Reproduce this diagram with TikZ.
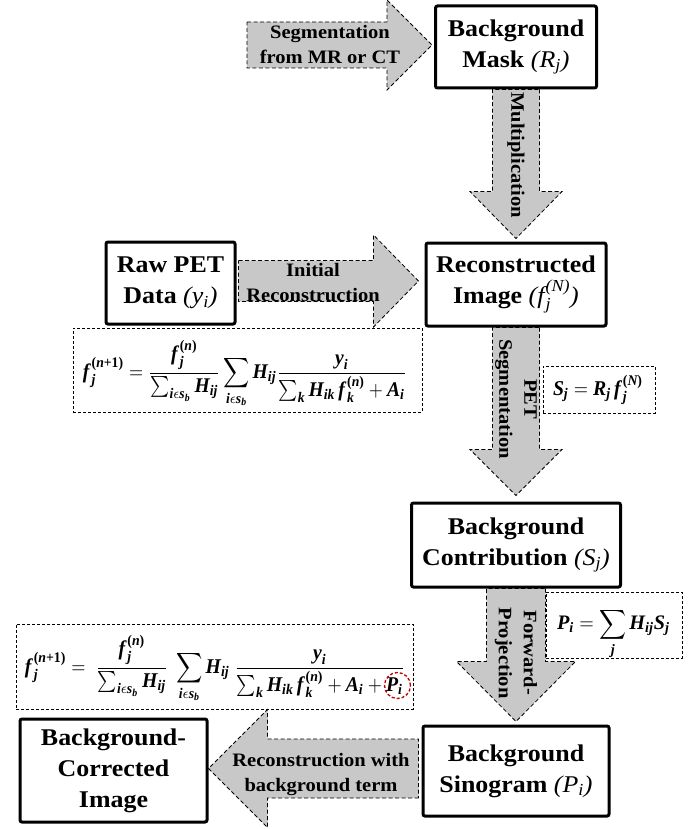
\documentclass[tikz,border=0pt]{standalone}
\usepackage{amsmath}
\usepackage{graphicx}
\usepackage{fontspec}
\setmainfont{Liberation Serif}[FakeStretch=1.08]
\usetikzlibrary{calc}
\definecolor{arrowgray}{RGB}{200,200,200}
\definecolor{circred}{RGB}{192,0,0}
\pgfdeclarelayer{bg}
\pgfsetlayers{bg,main}
% medium italic for variable names inside bold box titles
\newcommand\vi[1]{{\mdseries\itshape #1}}
% bold italic variables and bold upright symbols inside the equations
\newcommand\bv[1]{\text{\bfseries\itshape #1}}
\newcommand\bu[1]{\text{\bfseries #1}}
\newcommand\bff{\bv{f\kern1.2pt}}
\newcommand\iter[1]{^{\bu{(}\bv{#1}\bu{)}}}
\newcommand\sumb{\sum_{\bv{i}\epsilon\bv{s}_{\bv{b}}}}
% block arrow from #2 (start of shaft) to #3 (tip):
% #4 half shaft width, #5 half head width, #6 head length
\newcommand\blockarrow[6][]{%
  \coordinate (ha) at ($(#3)!#6!(#2)$);
  \draw[blockarrow,#1] ($(#2)!#4!90:(#3)$) -- ($(ha)!#4!90:(#3)$)
    -- ($(ha)!#5!90:(#3)$) -- (#3) -- ($(ha)!#5!-90:(#3)$)
    -- ($(ha)!#4!-90:(#3)$) -- ($(#2)!#4!-90:(#3)$) -- cycle;}
\tikzset{
  box/.style={draw, line width=3pt, rounded corners=2pt, fill=white,
    align=center, inner sep=0pt, font=\fontsize{24}{31}\selectfont\bfseries},
  lbl/.style={align=center, inner sep=0pt, font=\fontsize{19}{25}\selectfont\bfseries},
  blockarrow/.style={draw, fill=arrowgray, line width=0.8pt, dash pattern=on 4pt off 2.5pt},
  fbox/.style={draw, line width=0.8pt, dash pattern=on 3pt off 2pt, inner sep=0pt},
  eq/.style={inner sep=0pt},
  redring/.style={draw=circred, circle, line width=1.3pt, dash pattern=on 3pt off 2pt, inner sep=0pt}
}
\begin{document}
\begin{tikzpicture}[x=1pt,y=-1pt]
\useasboundingbox (0,0) rectangle (699,829);

% process boxes
\node[box, minimum width=161pt, minimum height=82pt] (mask) at (516,47)
  {Background\\Mask \vi{(R}$_{\text{\vi{j}}}$\vi{)}};
\node[box, minimum width=180pt, minimum height=83pt] (recon) at (516,284.5)
  {Reconstructed\\Image \vi{(f\kern1pt}$_{\text{\vi{j}}}^{\text{\vi{(N)}}}$\vi{)}};
\node[box, minimum width=129pt, minimum height=82pt] (raw) at (170.5,283)
  {Raw PET\\Data \vi{(y}$_{\text{\vi{i}}}$\vi{)}};
\node[box, minimum width=209pt, minimum height=84pt] (contrib) at (516,545)
  {Background\\Contribution \vi{(S}$_{\text{\vi{j}}}$\vi{)}};
\node[box, minimum width=186pt, minimum height=90pt] (sino) at (516,771)
  {Background\\Sinogram \vi{(P}$_{\text{\vi{i}}}$\vi{)}};
\node[box, minimum width=187pt, minimum height=103pt] (corr) at (113.5,770.5)
  {Background-\\Corrected\\Image};

% block arrows between the boxes
\coordinate (s1) at (247,45);
\coordinate (t1) at ($(s1 -| mask.west)+(-2,0)$);
\coordinate (t2) at ($(mask.south |- recon.north)+(0,-3)$);
\coordinate (s3) at ($(raw.east)+(2,-2)$);
\coordinate (t3) at ($(s3 -| recon.west)+(-6,0)$);
\coordinate (t4) at ($(recon.south |- contrib.north)+(0,-6)$);
\coordinate (t5) at ($(contrib.south |- sino.north)+(0,-3)$);
\coordinate (s6) at ($(sino.west)+(-3,-2.5)$);
\coordinate (t6) at (s6 -| corr.east);
\begin{pgfonlayer}{bg}
  \blockarrow{s1}{t1}{23pt}{45pt}{45pt}
  \blockarrow{mask.south}{t2}{23.5pt}{46pt}{47pt}
  \blockarrow{s3}{t3}{20.5pt}{46pt}{45pt}
  \blockarrow{recon.south}{t4}{23.5pt}{46pt}{46pt}
  \blockarrow{contrib.south}{t5}{29.5pt}{59.5pt}{60pt}
  \blockarrow{s6}{t6}{29.5pt}{59pt}{59pt}
\end{pgfonlayer}

% arrow labels
\node[lbl] (l1) at (330,45) {Segmentation\\from MR or CT};
\node[lbl, rotate=-90] (l2) at (516,155) {Multiplication};
\node[lbl] (l3) at (313,283) {Initial\\Reconstruction};
\node[lbl, rotate=-90] (l4) at (516,399) {PET\\Segmentation};
\node[lbl, rotate=-90] (l5) at (516,653) {Forward-\\Projection};
\node[lbl] (l6) at (321,774) {Reconstruction with\\background term};

% equation frames
\node[fbox, minimum width=349pt, minimum height=84pt] (fr1) at (247.5,370) {};
\node[fbox, minimum width=112pt, minimum height=47pt] (fr2) at (599,389.5) {};
\node[fbox, minimum width=136pt, minimum height=66pt] (fr3) at (614,625) {};
\node[fbox, minimum width=397pt, minimum height=85pt] (fr4) at (214.5,666.5) {};

% equations
\node[eq] (e1) at (245,374) {\scalebox{1}[1.15]{\resizebox{324pt}{!}{$\displaystyle
  \bff_{\bv{j}}^{\bu{(}\bv{n}\bu{+1)}} = \frac{\bff_{\bv{j}}\iter{n}}{\sumb \bv{H}_{\bv{ij}}}
  \sumb \bv{H}_{\bv{ij}}
  \frac{\bv{y}_{\bv{i}}}{\sum_{\bv{k}} \bv{H}_{\bv{ik}}\,\bff_{\bv{k}}\iter{n} + \bv{A}_{\bv{i}}}$}}};
\node[eq] (e2) at (598,390) {\scalebox{1}[1.15]{\resizebox{90pt}{!}{$
  \bv{S}_{\bv{j}} = \bv{R}_{\bv{j}}\,\bff_{\bv{j}}\iter{N}$}}};
\node[eq] (e3) at (613.5,634) {\scalebox{1}[1.1]{\resizebox{113pt}{!}{$\displaystyle
  \bv{P}_{\bv{i}} = \sum_{\bv{j}} \bv{H}_{\bv{ij}}\bv{S}_{\bv{j}}$}}};
\node[eq] (e4) at (215,669) {\scalebox{1}[1.15]{\resizebox{380pt}{!}{$\displaystyle
  \bff_{\bv{j}}^{\bu{(}\bv{n}\bu{+1)}} =\ \frac{\bff_{\bv{j}}\iter{n}}{\sumb \bv{H}_{\bv{ij}}}\ 
  \sumb \bv{H}_{\bv{ij}}\ 
  \frac{\bv{y}_{\bv{i}}}{\sum_{\bv{k}} \bv{H}_{\bv{ik}}\,\bff_{\bv{k}}\iter{n} + \bv{A}_{\bv{i}} + \bv{P}_{\bv{i}}}$}}};

% highlight of the background term
\node[redring, minimum size=26pt] (ring) at (397.5,685.5) {};
\end{tikzpicture}
\end{document}
